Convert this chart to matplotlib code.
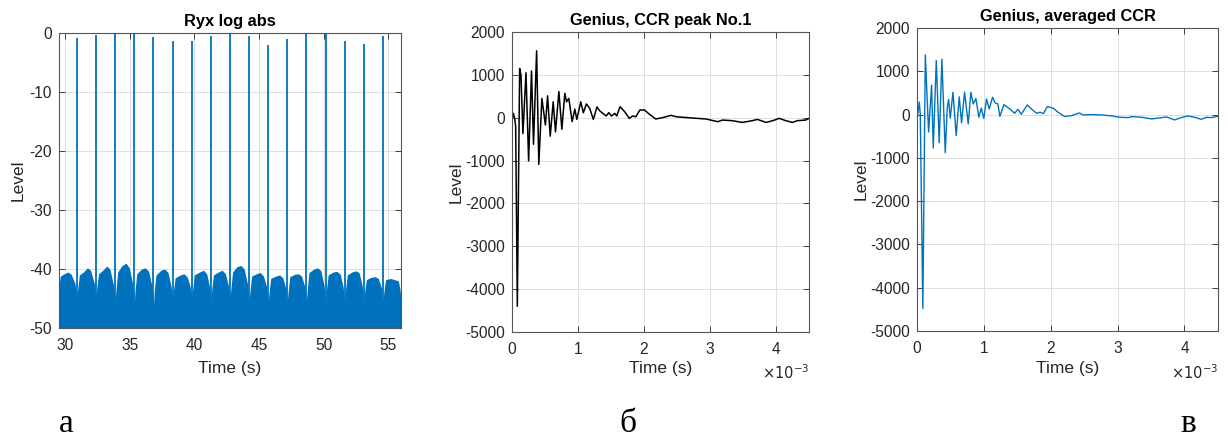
import numpy as np
import matplotlib
matplotlib.use("Agg")
import matplotlib.pyplot as plt

plt.rcParams['font.family'] = ['Liberation Sans', 'DejaVu Sans']
plt.rcParams['axes.unicode_minus'] = False

# --- panel a: Ryx log abs ---
peak_t = [30.88, 32.37, 33.85, 35.33, 36.82, 38.30, 39.79, 41.27, 42.75,
          44.23, 45.71, 47.19, 48.67, 50.16, 51.64, 53.12, 54.61]
peak_lvl = [-0.9, -0.35, 0, 0, -0.6, -1.3, -1.4, -0.5, 0,
            -0.5, -2.05, -1.0, 0, -0.2, -1.35, -1.9, -0.5]

noise_t = [29.5, 29.6, 29.9, 30.2, 30.45, 30.75, 30.88,
           30.95, 31.08, 31.4, 31.7, 31.95, 32.25, 32.37,
           32.44, 32.57, 32.9, 33.2, 33.45, 33.73, 33.85,
           33.92, 34.05, 34.4, 34.7, 34.95, 35.21, 35.33,
           35.40, 35.53, 35.9, 36.2, 36.45, 36.70, 36.82,
           36.89, 37.02, 37.4, 37.7, 37.95, 38.18, 38.30,
           38.37, 38.5, 38.9, 39.2, 39.45, 39.67, 39.79,
           39.86, 39.99, 40.4, 40.7, 40.95, 41.15, 41.27,
           41.34, 41.47, 41.85, 42.15, 42.4, 42.63, 42.75,
           42.82, 42.95, 43.3, 43.6, 43.85, 44.11, 44.23,
           44.30, 44.43, 44.8, 45.1, 45.35, 45.59, 45.71,
           45.78, 45.91, 46.3, 46.6, 46.85, 47.07, 47.19,
           47.26, 47.39, 47.75, 48.05, 48.3, 48.55, 48.67,
           48.74, 48.87, 49.25, 49.55, 49.8, 50.04, 50.16,
           50.23, 50.36, 50.75, 51.05, 51.3, 51.52, 51.64,
           51.71, 51.84, 52.2, 52.5, 52.75, 53.0, 53.12,
           53.19, 53.32, 53.7, 54.0, 54.25, 54.49, 54.61,
           54.68, 54.81, 55.2, 55.5, 55.8, 55.93, 56.0]
noise_lvl = [-43.0, -41.2, -40.8, -40.5, -40.9, -42.5, -45.0,
             -43.5, -41.0, -40.5, -39.8, -40.2, -42.5, -45.0,
             -43.0, -40.8, -40.2, -39.5, -40.0, -42.8, -45.5,
             -43.5, -40.5, -39.4, -39.0, -39.8, -42.5, -46.0,
             -43.5, -40.8, -40.0, -39.8, -40.4, -42.8, -46.3,
             -43.5, -41.0, -40.2, -40.0, -40.6, -42.8, -45.0,
             -43.8, -41.5, -41.0, -40.8, -41.4, -43.0, -45.0,
             -43.5, -41.0, -40.5, -40.2, -40.8, -42.8, -45.5,
             -43.5, -41.0, -40.5, -40.2, -40.8, -42.8, -45.0,
             -43.5, -40.5, -39.6, -39.4, -40.0, -42.5, -45.5,
             -43.8, -41.2, -40.8, -40.6, -41.2, -43.0, -45.5,
             -44.0, -41.6, -41.2, -41.0, -41.5, -43.2, -45.5,
             -43.8, -41.3, -40.9, -40.8, -41.2, -43.0, -45.5,
             -43.5, -40.6, -40.0, -39.8, -40.3, -42.8, -45.5,
             -43.5, -41.0, -40.5, -40.4, -40.9, -43.0, -45.5,
             -43.5, -41.0, -40.5, -40.3, -40.6, -42.8, -45.5,
             -43.8, -41.8, -41.4, -41.3, -41.6, -43.2, -45.5,
             -43.8, -41.8, -41.6, -41.8, -42.0, -43.5, -45.0]

# --- panel b: CCR peak No.1 (time in ms) ---
b_t = [0.0, 0.025, 0.045, 0.06, 0.085, 0.12, 0.14, 0.17, 0.216, 0.256,
       0.30, 0.33, 0.377, 0.41, 0.457, 0.51, 0.543, 0.583, 0.628, 0.663,
       0.714, 0.759, 0.804, 0.83, 0.864, 0.915, 0.955, 0.985, 1.045, 1.085,
       1.13, 1.18, 1.236, 1.29, 1.33, 1.38, 1.43, 1.47, 1.51, 1.56,
       1.59, 1.64, 1.71, 1.78, 1.83, 1.88, 1.94, 2.01, 2.08, 2.18,
       2.28, 2.41, 2.49, 2.59, 2.74, 2.94, 3.12, 3.19, 3.34, 3.49,
       3.64, 3.72, 3.85, 3.95, 4.05, 4.15, 4.25, 4.32, 4.45, 4.5]
b_lvl = [-90, 100, -20, -200, -4400, 1150, 1000, -370, 1050, -1010,
         1090, -620, 1560, -1090, 450, -170, 510, -430, 370, -330,
         610, -270, 570, 370, 450, -90, 200, -40, 370, 115,
         320, 220, -40, 250, 164, 100, 40, 117, 40, 100,
         40, 257, 140, -15, 40, 23, 180, 180, 86, -30,
         0, 55, 23, 10, -8, -30, -93, -55, -70, -110,
         -70, -40, -110, -70, -15, -70, -110, -70, -55, -15]

# --- panel c: averaged CCR (time in ms) ---
c_t = [0.0, 0.035, 0.05, 0.088, 0.125, 0.174, 0.219, 0.244, 0.289, 0.333,
       0.373, 0.423, 0.453, 0.473, 0.498, 0.538, 0.587, 0.632, 0.667, 0.712,
       0.767, 0.806, 0.841, 0.881, 0.926, 0.961, 1.0, 1.04, 1.08, 1.13,
       1.17, 1.21, 1.24, 1.30, 1.39, 1.46, 1.51, 1.56, 1.65, 1.71,
       1.79, 1.84, 1.89, 1.95, 2.04, 2.11, 2.21, 2.31, 2.43, 2.48,
       2.61, 2.76, 2.91, 3.03, 3.16, 3.21, 3.36, 3.51, 3.66, 3.73,
       3.85, 3.95, 4.05, 4.15, 4.25, 4.33, 4.40, 4.48, 4.5]
c_lvl = [-150, 290, 0, -4480, 1380, -400, 680, -770, 1250, -650,
         1280, -880, 150, 350, -80, 515, -485, 410, -190, 520,
         -215, 515, 245, 370, -60, 150, -90, 360, 130, 400,
         270, 245, -40, 230, 130, 30, 123, 8, 223, 130,
         30, 54, 23, 185, 146, 54, -46, -23, 38, -8,
         0, -8, -30, -62, -70, -46, -62, -100, -70, -54,
         -123, -70, -30, -62, -108, -62, -70, -46, -40]

blue = '#0072BD'
txt = '#262626'

fig = plt.figure(figsize=(12.28, 4.4), dpi=100)
axa = fig.add_axes([0.048, 0.2545, 0.2785, 0.6705])
axb = fig.add_axes([0.4167, 0.2455, 0.2421, 0.6818])
axc = fig.add_axes([0.7467, 0.2477, 0.2451, 0.6886])


def style(ax):
    ax.grid(True, color='#dfdfdf', linewidth=0.7)
    ax.set_axisbelow(True)
    ax.tick_params(direction='in', top=True, right=True, labelsize=11.2,
                   colors=txt, length=4, width=0.6)
    ax.tick_params(axis='x', pad=7)
    ax.tick_params(axis='y', pad=5)
    for s in ax.spines.values():
        s.set_color('#555555')
        s.set_linewidth(0.8)


# a
axa.fill_between(noise_t, -50, noise_lvl, color=blue, linewidth=0)
axa.vlines(peak_t, -50, peak_lvl, color=blue, linewidth=1.3)
axa.set_xlim(29.5, 56.0)
axa.set_ylim(-50, 0)
axa.set_xticks([30, 35, 40, 45, 50, 55])
axa.set_yticks([-50, -40, -30, -20, -10, 0])
style(axa)
axa.set_title('Ryx log abs', fontsize=11.8, fontweight='bold', color='k', pad=5)
axa.set_xlabel('Time (s)', fontsize=12.5, color=txt)
axa.set_ylabel('Level', fontsize=12.5, color=txt)
axa.xaxis.set_label_coords(0.5, -0.112)
axa.yaxis.set_label_coords(-0.097, 0.5)

# b and c
for ax, t, v, col, lw, title, ylx, xly in [
        (axb, b_t, b_lvl, 'k', 1.1, 'Genius, CCR peak No.1', -0.163, -0.097),
        (axc, c_t, c_lvl, blue, 1.0, 'Genius, averaged CCR', -0.16, -0.099)]:
    ax.plot(np.array(t) * 1e-3, v, color=col, linewidth=lw)
    ax.set_xlim(0, 4.5e-3)
    ax.set_ylim(-5000, 2000)
    ax.set_xticks([0, 1e-3, 2e-3, 3e-3, 4e-3])
    ax.set_xticklabels(['0', '1', '2', '3', '4'])
    ax.set_yticks(range(-5000, 2001, 1000))
    style(ax)
    ax.set_title(title, fontsize=11.8, fontweight='bold', color='k', pad=5)
    ax.set_xlabel('Time (s)', fontsize=12.5, color=txt)
    ax.set_ylabel('Level', fontsize=12.5, color=txt)
    ax.xaxis.set_label_coords(0.5, xly)
    ax.yaxis.set_label_coords(ylx, 0.5)
    ax.text(1.0, -0.105, r'$\times10^{-3}$', transform=ax.transAxes,
            ha='right', va='top', fontsize=10.5, color=txt)

# panel letters
for x, s in [(0.054, 'а'), (0.511, 'б'), (0.968, 'в')]:
    fig.text(x, 0.018, s, ha='center', va='baseline', fontsize=24,
             family='Liberation Serif')

fig.savefig('out.png', dpi=100)
